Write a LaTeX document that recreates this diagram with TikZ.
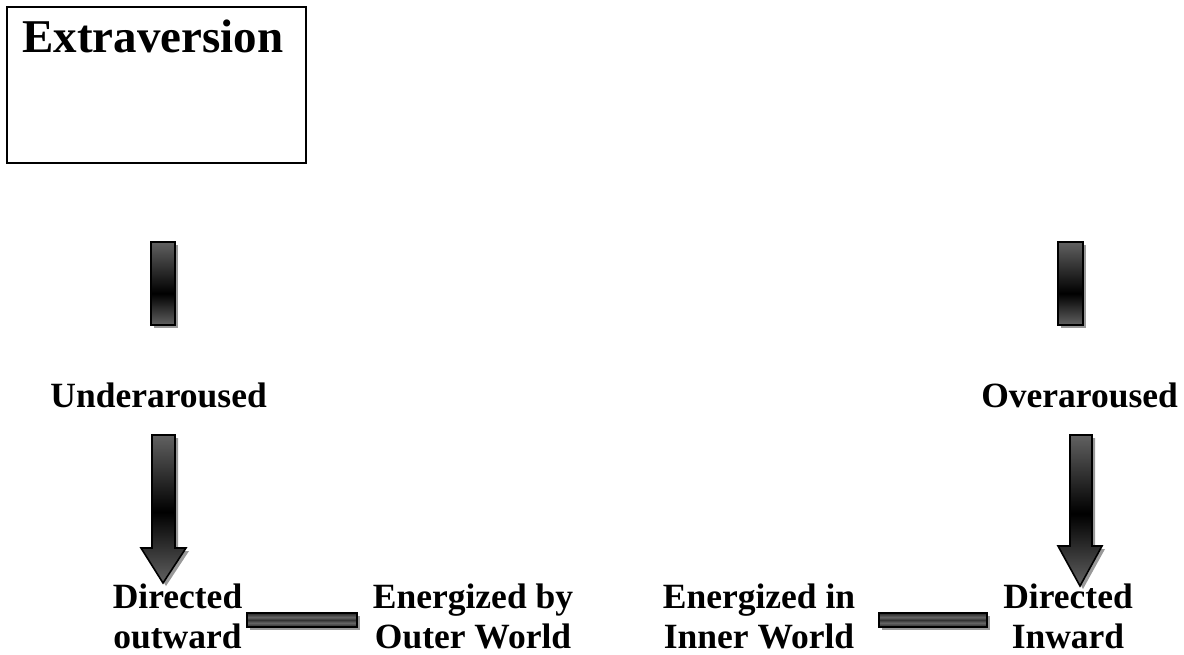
\documentclass[tikz,border=0pt]{standalone}
\usepackage{fontspec}
\setmainfont{Liberation Serif}
\definecolor{sg}{gray}{0.38}
\definecolor{shadowgray}{gray}{0.6}
\pgfdeclareverticalshading{barshade}{100bp}{color(0bp)=(sg);color(25bp)=(sg);color(44bp)=(black);color(75bp)=(sg);color(100bp)=(sg)}
\pgfdeclareverticalshading{arrowshade}{100bp}{color(0bp)=(sg);color(25bp)=(sg);color(49bp)=(black);color(75bp)=(sg);color(100bp)=(sg)}
\pgfdeclareverticalshading{hbarshade}{100bp}{color(0bp)=(black!85);color(25bp)=(black!85);color(40bp)=(black!60);color(50bp)=(black!80);color(60bp)=(black!60);color(75bp)=(black!85);color(100bp)=(black!85)}
\tikzset{
  shadowfill/.style={fill=shadowgray},
  vbar/.style={draw=black, line width=1.6pt, shading=barshade},
  varrow/.style={draw=black, line width=1.6pt, shading=arrowshade, line join=miter},
  hbar/.style={draw=black, line width=1.6pt, shading=hbarshade},
  lbl/.style={font=\fontsize{35.5}{40}\selectfont\bfseries, inner sep=0pt, align=center},
  titlebox/.style={draw=black, line width=2pt},
}
\begin{document}
\begin{tikzpicture}[x=1pt,y=-1pt]
\useasboundingbox (0,0) rectangle (1184,654);
% title box
\draw[titlebox] (7,7) rectangle (306,163);
\node[font=\fontsize{47}{52}\selectfont\bfseries, inner sep=0pt, anchor=base west] (title) at (22,52) {Extraversion};
% labels
\node[lbl, anchor=base east] (u) at (267,407) {Underaroused};
\node[lbl, anchor=base east] (o) at (1178,407) {Overaroused};
\node[lbl] (dout) at (177.5,616) {Directed\\outward};
\node[lbl] (eout) at (473,616) {Energized by\\Outer World};
\node[lbl] (ein) at (759,616) {Energized in\\Inner World};
\node[lbl] (din) at (1068,616) {Directed\\Inward};
% upper bars
\fill[shadowfill] (154,245) rectangle (178,328);
\shade[vbar] (151,242) rectangle (175,325);
\fill[shadowfill] (1061,245) rectangle (1086,328);
\shade[vbar] (1058,242) rectangle (1083,325);
% lower arrows
\fill[shadowfill] (155,438) -- (178,438) -- (178,551) -- (189,551) -- (166,586) -- (144,551) -- (155,551) -- cycle;
\shade[varrow] (152,435) -- (175,435) -- (175,548) -- (186,548) -- (163,583) -- (141,548) -- (152,548) -- cycle;
\fill[shadowfill] (1073,438) -- (1095,438) -- (1095,549) -- (1105,549) -- (1083,589) -- (1061,549) -- (1073,549) -- cycle;
\shade[varrow] (1070,435) -- (1092,435) -- (1092,546) -- (1102,546) -- (1080,586) -- (1058,546) -- (1070,546) -- cycle;
% horizontal bars
\fill[shadowfill] (250,616) rectangle (360,630);
\shade[hbar] (247,613) rectangle (357,627);
\fill[shadowfill] (882,616) rectangle (990,630);
\shade[hbar] (879,613) rectangle (987,627);
\end{tikzpicture}
\end{document}
